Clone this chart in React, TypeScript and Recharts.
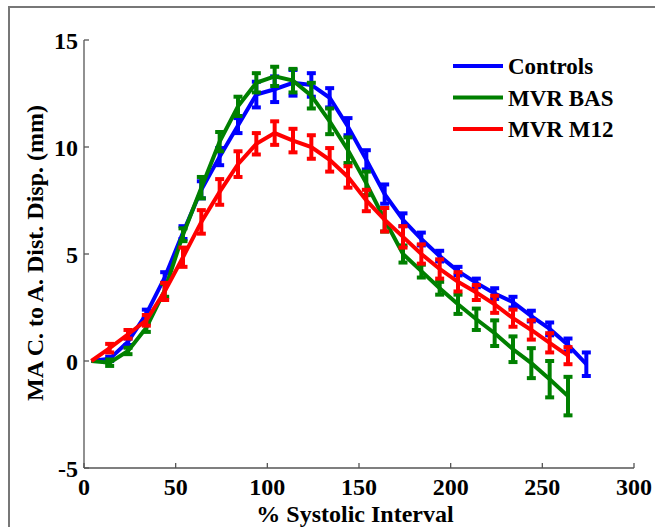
import React from 'react';
import { LineChart, Line, XAxis, YAxis, ErrorBar } from 'recharts';

const systolicPct = [4, 14, 24, 34, 44, 54, 64, 74, 84, 94, 104, 114, 124, 134, 144, 154, 164, 174, 184, 194, 204, 214, 224, 234, 244, 254, 264, 274];

const controls = [0, 0.1, 0.9, 2.2, 3.9, 6.0, 8.0, 9.55, 11.0, 12.45, 12.7, 13.0, 12.9, 12.3, 10.95, 9.4, 7.8, 6.6, 5.7, 4.9, 4.2, 3.65, 3.15, 2.75, 2.1, 1.5, 0.75, -0.15];
const controlsErr = [0, 0.1, 0.15, 0.2, 0.25, 0.3, 0.4, 0.4, 0.35, 0.6, 0.6, 0.6, 0.55, 0.45, 0.4, 0.45, 0.45, 0.3, 0.3, 0.25, 0.2, 0.2, 0.25, 0.25, 0.25, 0.3, 0.3, 0.55];

const mvrBas = [0, -0.08, 0.47, 1.56, 3.3, 5.9, 8.1, 10.25, 11.9, 13.0, 13.3, 13.1, 12.4, 11.2, 9.85, 8.3, 6.6, 5.0, 4.2, 3.4, 2.65, 1.95, 1.3, 0.55, -0.1, -0.85, -1.64];
const mvrBasErr = [0, 0.15, 0.15, 0.2, 0.3, 0.3, 0.5, 0.45, 0.45, 0.45, 0.45, 0.55, 0.6, 0.6, 0.6, 0.55, 0.55, 0.4, 0.3, 0.3, 0.45, 0.5, 0.6, 0.6, 0.7, 0.85, 0.9];

const mvrM12 = [0, 0.6, 1.25, 1.9, 3.25, 4.85, 6.5, 7.9, 9.2, 10.15, 10.65, 10.3, 10.0, 9.4, 8.6, 7.5, 6.6, 5.8, 5.0, 4.3, 3.7, 3.2, 2.65, 2.0, 1.45, 0.85, 0.25];
const mvrM12Err = [0, 0.2, 0.2, 0.25, 0.4, 0.45, 0.55, 0.6, 0.6, 0.5, 0.55, 0.55, 0.55, 0.55, 0.5, 0.5, 0.55, 0.5, 0.45, 0.45, 0.45, 0.35, 0.4, 0.4, 0.45, 0.45, 0.4];

const xTicks = [0, 50, 100, 150, 200, 250, 300];
const yTicks = [-5, 0, 5, 10, 15];

const seriesNames = ['Controls', 'MVR BAS', 'MVR M12'];
const seriesColors = ['#0000ff', '#008000', '#ff0000'];

const data = systolicPct.map((x, i) => ({
  x,
  controls: controls[i] ?? null,
  controlsErr: controlsErr[i] ?? null,
  bas: mvrBas[i] ?? null,
  basErr: mvrBasErr[i] ?? null,
  m12: mvrM12[i] ?? null,
  m12Err: mvrM12Err[i] ?? null,
}));

const FONT = "'Liberation Serif', Tinos, 'Times New Roman', Times, 'Nimbus Roman', 'DejaVu Serif', serif";
const AXIS = '#555555';

const keys = [
  { key: 'controls', err: 'controlsErr' },
  { key: 'bas', err: 'basErr' },
  { key: 'm12', err: 'm12Err' },
];

const textStyle = { fontFamily: FONT, fontWeight: 'bold' as const };

export default function App() {
  return (
    <div style={{ position: 'absolute', left: 0, top: 0, width: 655, height: 527, overflow: 'hidden', background: '#fff' }}>
      <div
        style={{
          position: 'absolute',
          left: 8,
          top: 6,
          width: 647,
          height: 521,
          borderTop: '2px solid #777',
          borderLeft: '2px solid #777',
        }}
      />
      <div style={{ position: 'absolute', left: 0, top: 0 }}>
        <LineChart width={655} height={527} data={data} margin={{ top: 40, right: 21, bottom: 0, left: 0 }}>
          <XAxis
            dataKey="x"
            type="number"
            domain={[0, 300]}
            ticks={xTicks}
            interval={0}
            height={59}
            tickSize={-5}
            tickMargin={15}
            stroke={AXIS}
            axisLine={{ stroke: AXIS, strokeWidth: 1.3 }}
            tickLine={{ stroke: AXIS, strokeWidth: 1.3 }}
            tick={{ fill: '#000', fontSize: 24, style: textStyle }}
            label={{
              content: (p: any) => {
                const vb = p.viewBox || { x: 84, y: 468, width: 550, height: 59 };
                return (
                  <text
                    x={vb.x + vb.width / 2 - 4}
                    y={vb.y + vb.height - 5}
                    textAnchor="middle"
                    style={textStyle}
                    fontSize={24}
                    fill="#000"
                  >
                    % Systolic Interval
                  </text>
                );
              },
            }}
          />
          <YAxis
            type="number"
            domain={[-5, 15]}
            ticks={yTicks}
            interval={0}
            width={84}
            tickSize={-5}
            tickMargin={11}
            stroke={AXIS}
            axisLine={{ stroke: AXIS, strokeWidth: 1.3 }}
            tickLine={{ stroke: AXIS, strokeWidth: 1.3 }}
            tick={{ fill: '#000', fontSize: 24, style: textStyle }}
            label={{
              content: (p: any) => {
                const vb = p.viewBox || { x: 0, y: 40, width: 84, height: 428 };
                const cx = vb.x + 43;
                const cy = vb.y + vb.height / 2 - 1;
                return (
                  <text
                    x={cx}
                    y={cy}
                    transform={`rotate(-90, ${cx}, ${cy})`}
                    textAnchor="middle"
                    style={textStyle}
                    fontSize={24}
                    fill="#000"
                  >
                    MA C. to A. Dist. Disp. (mm)
                  </text>
                );
              },
            }}
          />
          {keys.map((k, i) => (
            <Line
              key={k.key}
              dataKey={k.key}
              name={seriesNames[i]}
              type="linear"
              stroke={seriesColors[i]}
              strokeWidth={4}
              dot={false}
              activeDot={false}
              isAnimationActive={false}
            >
              <ErrorBar dataKey={k.err} direction="y" width={4.5} strokeWidth={4} stroke={seriesColors[i]} />
            </Line>
          ))}
        </LineChart>
      </div>
      <svg width={200} height={100} style={{ position: 'absolute', left: 450, top: 52, overflow: 'visible' }}>
        {seriesNames.map((n, i) => (
          <g key={n}>
            <line x1={3} x2={53} y1={14 + i * 31.5} y2={14 + i * 31.5} stroke={seriesColors[i]} strokeWidth={4} />
            <text x={58} y={22 + i * 31.5} style={textStyle} fontSize={23} fill="#000">
              {n}
            </text>
          </g>
        ))}
      </svg>
    </div>
  );
}
